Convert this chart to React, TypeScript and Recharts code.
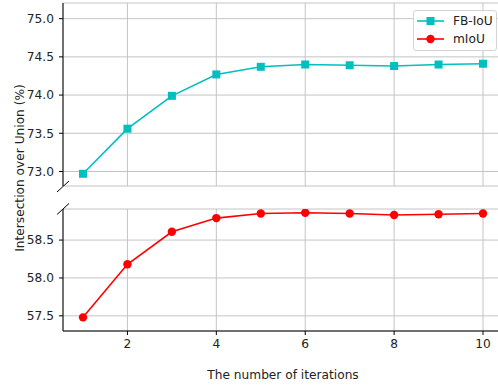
import { LineChart, Line, XAxis, YAxis, CartesianGrid } from "recharts";

const iterations = [1, 2, 3, 4, 5, 6, 7, 8, 9, 10];
const fbIoU = [72.97, 73.56, 73.99, 74.27, 74.37, 74.4, 74.39, 74.38, 74.4, 74.41];
const mIoU = [57.48, 58.18, 58.61, 58.79, 58.85, 58.86, 58.85, 58.83, 58.84, 58.85];

const xTicks = [2, 4, 6, 8, 10];
const topTicks = [73, 73.5, 74, 74.5, 75];
const bottomTicks = [57.5, 58, 58.5];

const data = iterations.map((it, i) => ({ it, fb: fbIoU[i], miou: mIoU[i] }));

const FONT = "DejaVu Sans";
const FS = 12.2;
const CYAN = "#00bfbf";
const RED = "#ff0000";
const GRID = "#c4c4c4";
const tickStyle = { fill: "#222", fontSize: FS, fontFamily: FONT };

const SquareDot = (p: any) => (
  <rect key={p.index} x={p.cx - 4} y={p.cy - 4} width={8} height={8} fill={CYAN} />
);
const CircleDot = (p: any) => <circle key={p.index} cx={p.cx} cy={p.cy} r={4.2} fill={RED} />;

const fmt = (v: number) => v.toFixed(1);

export default function App() {
  return (
    <div style={{ position: "absolute", left: 0, top: 0, width: 498, height: 386, overflow: "hidden", background: "#fff" }}>
      {/* upper panel: FB-IoU */}
      <div style={{ position: "absolute", left: 0, top: 0 }}>
        <LineChart width={503} height={386} data={data} margin={{ top: 3, right: 0, bottom: 200, left: 0 }}>
          <CartesianGrid stroke={GRID} strokeWidth={1} />
          <XAxis
            dataKey="it"
            type="number"
            domain={[0.55, 10.45]}
            ticks={xTicks}
            allowDataOverflow
            height={0}
            tick={{ fill: "transparent", fontSize: 1 }}
            axisLine={false}
            tickLine={false}
          />
          <YAxis
            type="number"
            domain={[72.81, 75.205]}
            ticks={topTicks}
            allowDataOverflow
            width={63}
            tickFormatter={fmt}
            tick={tickStyle}
            tickSize={4}
            tickMargin={5}
            axisLine={{ stroke: "#000", strokeWidth: 1 }}
            tickLine={{ stroke: "#000" }}
          />
          <Line type="linear" dataKey="fb" stroke={CYAN} strokeWidth={1.6} dot={SquareDot} isAnimationActive={false} />
        </LineChart>
      </div>
      {/* lower panel: mIoU */}
      <div style={{ position: "absolute", left: 0, top: 0 }}>
        <LineChart width={503} height={386} data={data} margin={{ top: 209, right: 0, bottom: 0, left: 0 }}>
          <CartesianGrid stroke={GRID} strokeWidth={1} />
          <XAxis
            dataKey="it"
            type="number"
            domain={[0.55, 10.45]}
            ticks={xTicks}
            allowDataOverflow
            height={55}
            tick={tickStyle}
            tickSize={4}
            tickMargin={4}
            axisLine={{ stroke: "#000", strokeWidth: 1 }}
            tickLine={{ stroke: "#000" }}
            label={{ value: "The number of iterations", position: "insideBottom", offset: 7, fill: "#222", fontSize: FS, fontFamily: FONT }}
          />
          <YAxis
            type="number"
            domain={[57.3, 58.91]}
            ticks={bottomTicks}
            allowDataOverflow
            width={63}
            tickFormatter={fmt}
            tick={tickStyle}
            tickSize={4}
            tickMargin={5}
            axisLine={{ stroke: "#000", strokeWidth: 1 }}
            tickLine={{ stroke: "#000" }}
          />
          <Line type="linear" dataKey="miou" stroke={RED} strokeWidth={1.6} dot={CircleDot} isAnimationActive={false} />
        </LineChart>
      </div>
      {/* shared y label and break marks */}
      <svg width={498} height={386} style={{ position: "absolute", left: 0, top: 0, pointerEvents: "none" }}>
        <text
          x={20}
          y={168}
          transform="rotate(-90 20 168)"
          textAnchor="middle"
          dominantBaseline="central"
          fill="#222"
          fontSize={FS}
          fontFamily={FONT}
        >
          Intersection over Union (%)
        </text>
        <line x1={57} y1={192} x2={69} y2={181} stroke="#000" strokeWidth={1} />
        <line x1={57} y1={214.5} x2={69} y2={203.5} stroke="#000" strokeWidth={1} />
      </svg>
      {/* legend */}
      <div
        style={{
          position: "absolute",
          left: 413,
          top: 10,
          width: 82,
          height: 39,
          border: "1px solid #d4d4d4",
          borderRadius: 3,
          background: "rgba(255,255,255,0.85)",
          fontFamily: FONT,
          fontSize: FS,
          color: "#222",
        }}
      >
        {[
          { name: "FB-IoU", color: CYAN, shape: "square" },
          { name: "mIoU", color: RED, shape: "circle" },
        ].map((e, i) => (
          <div key={e.name} style={{ position: "absolute", left: 3, top: 2 + i * 18, height: 16, display: "flex", alignItems: "center" }}>
            <svg width={27} height={16}>
              <line x1={0} y1={8} x2={27} y2={8} stroke={e.color} strokeWidth={1.6} />
              {e.shape === "square" ? (
                <rect x={9.5} y={4} width={8} height={8} fill={e.color} />
              ) : (
                <circle cx={13.5} cy={8} r={4.2} fill={e.color} />
              )}
            </svg>
            <span style={{ marginLeft: 9 }}>{e.name}</span>
          </div>
        ))}
      </div>
    </div>
  );
}
